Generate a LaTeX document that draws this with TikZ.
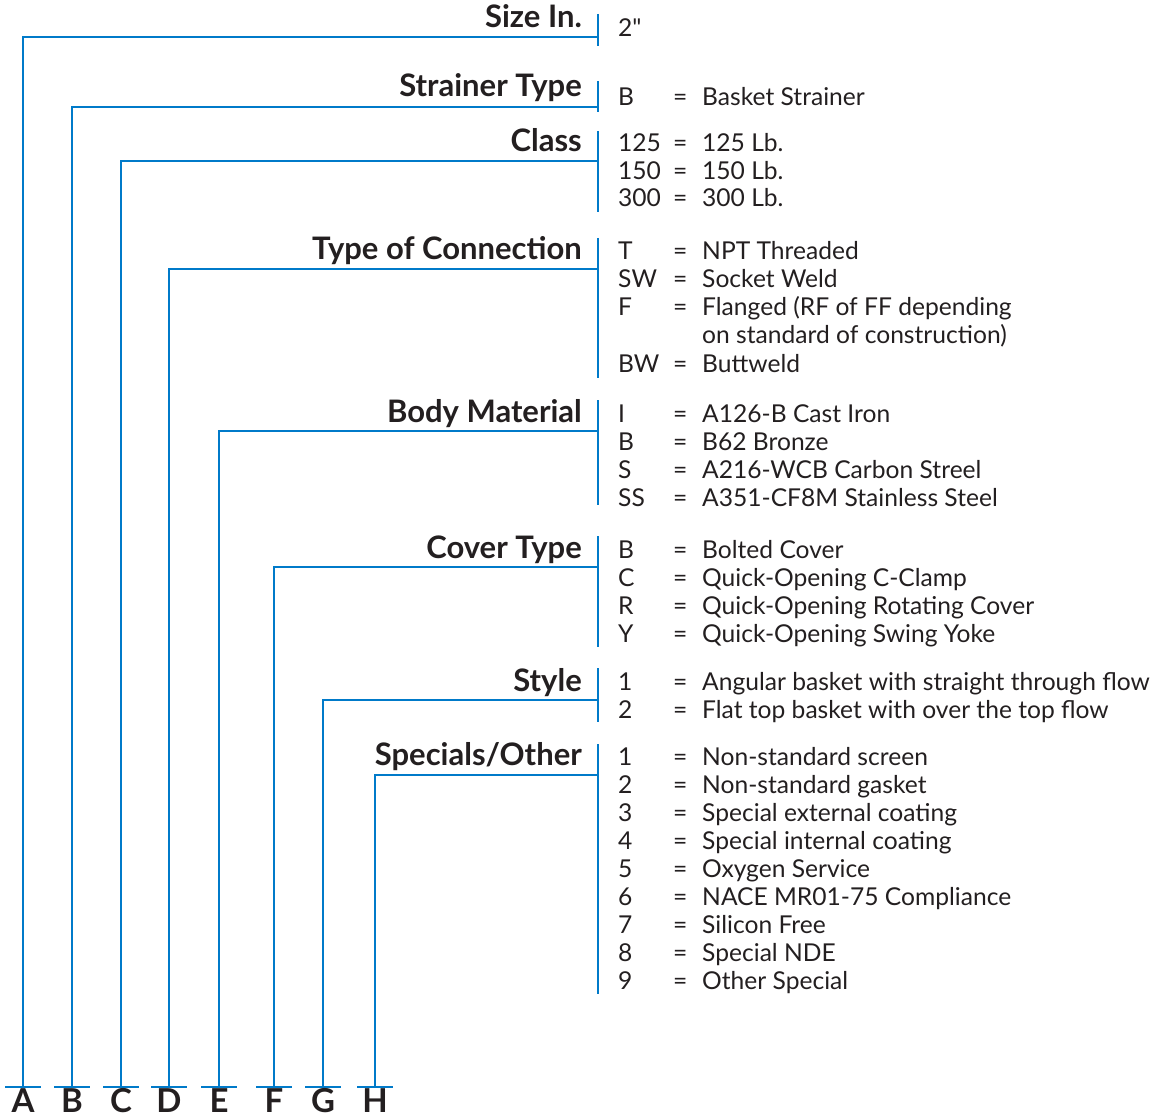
\documentclass[tikz,border=0pt]{standalone}
\usepackage{fontspec}
\setmainfont{Lato}
\newfontfamily\latoraw{Lato}
\definecolor{lineblue}{RGB}{0,122,201}
\definecolor{ink}{RGB}{35,31,32}
\newcommand\optrow[4]{%
  \node[keytext] (#1k) at (618,#2) {#3};
  \node[keytext] (#1e) at (673,#2) {=};
  \node[keytext] (#1v) at (702,#2) {#4};}
\begin{document}
\begin{tikzpicture}[x=1pt,y=-1pt,
  leader/.style={draw=lineblue,line width=2.9pt},
  head/.style={anchor=base east,inner sep=0pt,font=\fontsize{31}{34}\selectfont\bfseries,text=ink},
  keytext/.style={anchor=base west,inner sep=0pt,font=\fontsize{24.6}{28}\selectfont,text=ink},
  letter/.style={anchor=base,inner sep=0pt,font=\fontsize{33}{36}\selectfont\bfseries,text=ink}]
\useasboundingbox (0,0) rectangle (1163,1118);

% separator segments
\foreach \a/\b in {14/46,81/112,131/212,238/378,400/505,536/647,668/722,744/994}
  \draw[leader] (598,\a) -- (598,\b);

% headings
\node[head] (hA) at (582,28) {Size In.};
\node[head] (hB) at (582,97) {Strainer Type};
\node[head] (hC) at (582,152) {Class};
\node[head] (hD) at (582,260) {Type of Connection};
\node[head] (hE) at (582,422) {Body Material};
\node[head] (hF) at (582,558) {Cover Type};
\node[head] (hG) at (582,691) {Style};
\node[head] (hH) at (582,765) {Specials/Other};

% leaders and letters
\foreach \n/\x/\y in {A/23/37,B/72/107,C/121/161,D/169/269,E/219/431,F/274/567,G/323/700,H/375/775}{
  \coordinate (t\n) at (598,\y);
  \coordinate (c\n) at (\x,\y);
  \coordinate (b\n) at (\x,1087);
  \coordinate (l\n) at (\x-18,1087);
  \coordinate (r\n) at (\x+18,1087);
  \draw[leader] (t\n) -- (c\n) -- (b\n);
  \draw[leader] (l\n) -- (r\n);
  \node[letter] (L\n) at (\x,1112) {\n};
}

% options
\node[keytext] (sz) at (618,37) {\latoraw 2"};
\optrow{b1}{106}{B}{Basket Strainer}
\optrow{c1}{152}{125}{125 Lb.}
\optrow{c2}{180}{150}{150 Lb.}
\optrow{c3}{207}{300}{300 Lb.}
\optrow{d1}{260}{T}{NPT Threaded}
\optrow{d2}{288}{SW}{Socket Weld}
\optrow{d3}{316}{F}{Flanged (RF of FF depending}
\node[keytext] (d3b) at (702,344) {on standard of construction)};
\optrow{d4}{372}{BW}{Buttweld}
\optrow{e1}{422}{I}{A126-B Cast Iron}
\optrow{e2}{450}{B}{B62 Bronze}
\optrow{e3}{478}{S}{A216-WCB Carbon Streel}
\optrow{e4}{506}{SS}{A351-CF8M Stainless Steel}
\optrow{f1}{558}{B}{Bolted Cover}
\optrow{f2}{586}{C}{Quick-Opening C-Clamp}
\optrow{f3}{614}{R}{Quick-Opening Rotating Cover}
\optrow{f4}{642}{Y}{Quick-Opening Swing Yoke}
\optrow{g1}{690}{1}{Angular basket with straight through flow}
\optrow{g2}{718}{2}{Flat top basket with over the top flow}
\optrow{h1}{765}{1}{Non-standard screen}
\optrow{h2}{793}{2}{Non-standard gasket}
\optrow{h3}{821}{3}{Special external coating}
\optrow{h4}{849}{4}{Special internal coating}
\optrow{h5}{877}{5}{Oxygen Service}
\optrow{h6}{905}{6}{NACE MR01-75 Compliance}
\optrow{h7}{933}{7}{Silicon Free}
\optrow{h8}{961}{8}{Special NDE}
\optrow{h9}{989}{9}{Other Special}
\end{tikzpicture}
\end{document}
